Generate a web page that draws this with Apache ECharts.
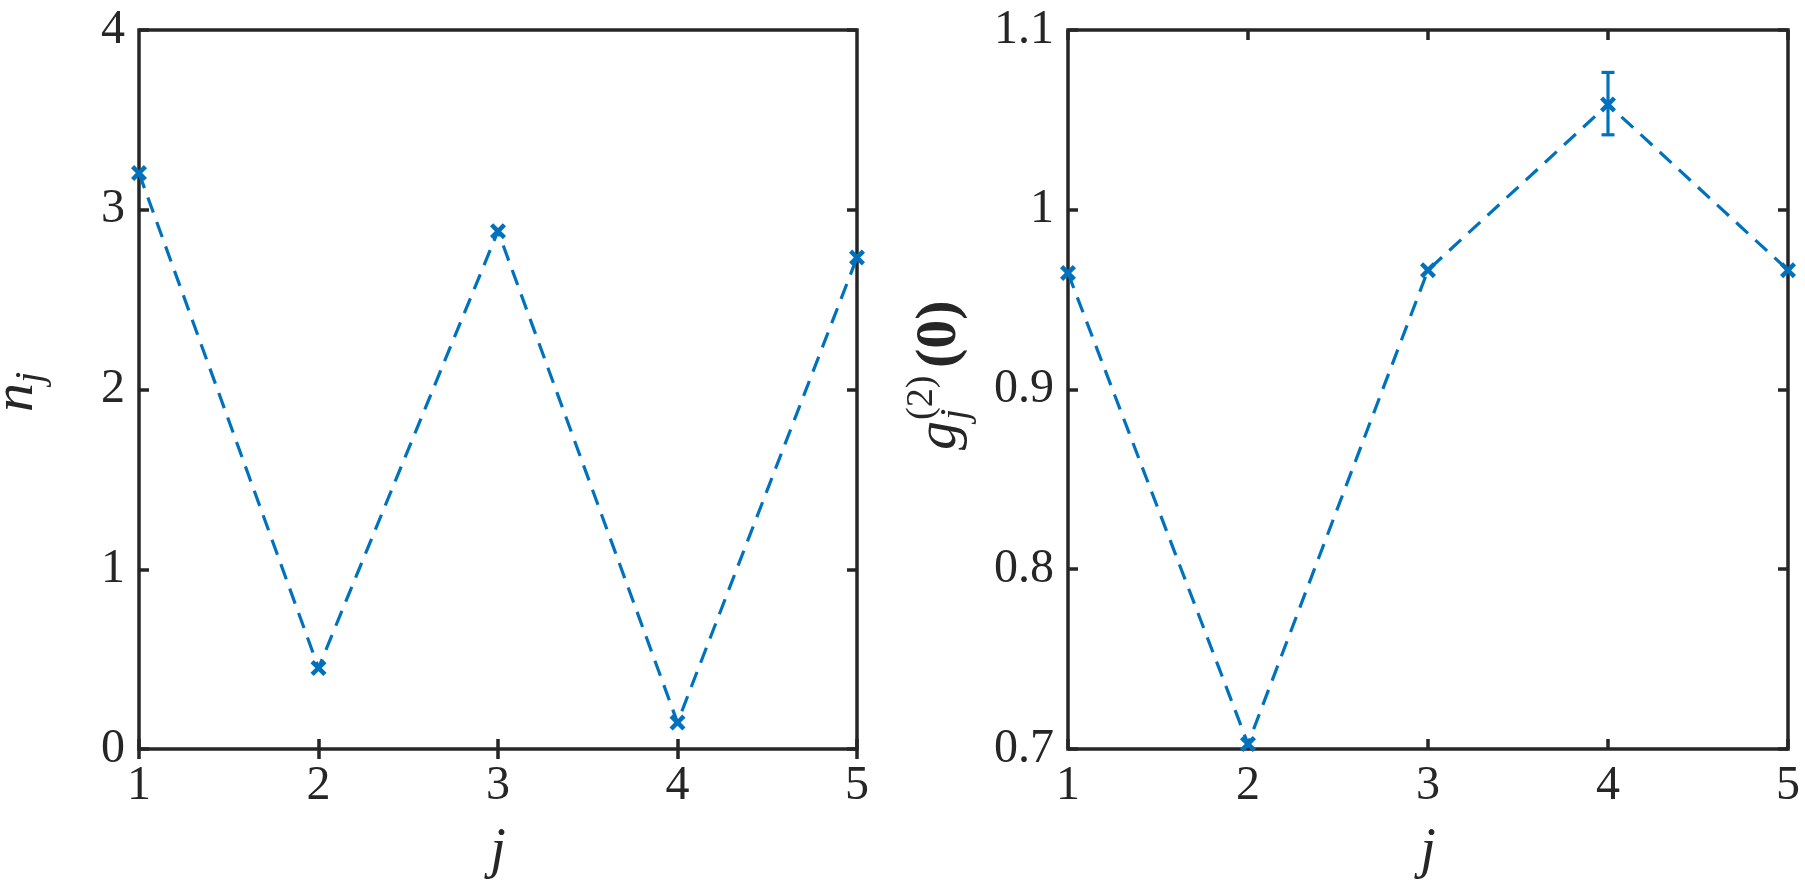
<!DOCTYPE html>
<html><head><meta charset="utf-8">
<script src="https://cdn.jsdelivr.net/npm/echarts@6/dist/echarts.min.js"></script>
<style>html,body{margin:0;padding:0;background:#fff}#c{width:1805px;height:886px}</style>
</head><body><div id="c"></div>
<script>
// ---- data ----
const jValues = [1, 2, 3, 4, 5];
const nValues = [3.204, 0.451, 2.881, 0.147, 2.734];
const gValues = [0.9648, 0.7028, 0.9664, 1.0586, 0.9664];
const gErrLower = [0, 0, 0, 0.0169, 0];
const gErrUpper = [0, 0, 0, 0.0178, 0];
const jTicks = [1, 2, 3, 4, 5];
const nTicks = [0, 1, 2, 3, 4];
const gTicks = [0.7, 0.8, 0.9, 1.0, 1.1];

// ---- style ----
const INK = '#262626';
const BLUE = '#0072BD';
const SERIF = '"Liberation Serif", "DejaVu Serif", serif';
const XMARK = 'path://M0,2L2,0L5,3L8,0L10,2L7,5L10,8L8,10L5,7L2,10L0,8L3,5Z';

const fmt = v => String(Math.round(v * 10) / 10);

function xAx(grid, pos, ticks) {
  return {
    gridIndex: grid, type: 'value', position: pos,
    min: ticks[0], max: ticks[ticks.length - 1], interval: ticks[1] - ticks[0],
    axisLine: { show: false },
    axisTick: { show: true, inside: true, length: 10, lineStyle: { color: INK, width: 3.5 } },
    axisLabel: { show: pos === 'bottom', fontFamily: SERIF, fontSize: 48, color: INK, margin: 13, formatter: fmt },
    splitLine: { show: false }
  };
}
function yAx(grid, pos, ticks) {
  return {
    gridIndex: grid, type: 'value', position: pos,
    min: ticks[0], max: ticks[ticks.length - 1], interval: Math.round((ticks[1] - ticks[0]) * 1000) / 1000,
    axisLine: { show: false },
    axisTick: { show: true, inside: true, length: 10, lineStyle: { color: INK, width: 3.5 } },
    axisLabel: { show: pos === 'left', fontFamily: SERIF, fontSize: 48, color: INK, margin: 14, formatter: fmt },
    splitLine: { show: false }
  };
}

function lineSeries(xi, yi, ys) {
  return {
    type: 'line', xAxisIndex: xi, yAxisIndex: yi,
    data: jValues.map((j, i) => [j, ys[i]]),
    symbol: XMARK, symbolSize: 16, showAllSymbol: true, clip: false,
    lineStyle: { color: BLUE, width: 3.2, type: [16, 10] },
    itemStyle: { color: BLUE },
    z: 3
  };
}

const errData = [];
jValues.forEach((j, i) => {
  if (gErrLower[i] > 0 || gErrUpper[i] > 0) errData.push([j, gValues[i] - gErrLower[i], gValues[i] + gErrUpper[i]]);
});

function txt(str, x, baseline, size, italic, bold) {
  return {
    type: 'text', x: x, y: baseline - 0.3 * size,
    style: {
      text: str, fill: INK, align: 'left', verticalAlign: 'middle',
      font: (italic ? 'italic ' : '') + (bold ? 'bold ' : '') + size + 'px ' + SERIF
    }
  };
}

const chart = echarts.init(document.getElementById('c'), null, { renderer: 'canvas' });
chart.setOption({
  animation: false,
  backgroundColor: '#fff',
  grid: [
    { left: 139, top: 30, width: 718, height: 719, show: true, borderColor: INK, borderWidth: 3.5, backgroundColor: 'transparent' },
    { left: 1068, top: 30, width: 720, height: 719, show: true, borderColor: INK, borderWidth: 3.5, backgroundColor: 'transparent' }
  ],
  xAxis: [xAx(0, 'bottom', jTicks), xAx(0, 'top', jTicks), xAx(1, 'bottom', jTicks), xAx(1, 'top', jTicks)],
  yAxis: [yAx(0, 'left', nTicks), yAx(0, 'right', nTicks), yAx(1, 'left', gTicks), yAx(1, 'right', gTicks)],
  series: [
    lineSeries(0, 0, nValues),
    lineSeries(2, 2, gValues),
    {
      type: 'custom', xAxisIndex: 2, yAxisIndex: 2, data: errData, z: 4, clip: false,
      renderItem: function (params, api) {
        const x = api.value(0), lo = api.value(1), hi = api.value(2);
        const t = api.coord([x, hi]), b = api.coord([x, lo]);
        const cw = 6.5;
        const st = { stroke: BLUE, lineWidth: 3.2 };
        return {
          type: 'group', children: [
            { type: 'line', shape: { x1: t[0], y1: t[1], x2: b[0], y2: b[1] }, style: st },
            { type: 'line', shape: { x1: t[0] - cw, y1: t[1], x2: t[0] + cw, y2: t[1] }, style: st },
            { type: 'line', shape: { x1: b[0] - cw, y1: b[1], x2: b[0] + cw, y2: b[1] }, style: st }
          ]
        };
      }
    }
  ],
  graphic: [
    { type: 'text', x: 498, y: 852, style: { text: 'j', font: 'italic 56px ' + SERIF, fill: INK, align: 'center', verticalAlign: 'middle' } },
    { type: 'text', x: 1428, y: 852, style: { text: 'j', font: 'italic 56px ' + SERIF, fill: INK, align: 'center', verticalAlign: 'middle' } },
    {
      type: 'group', x: 34, y: 390, rotation: Math.PI / 2,
      children: [
        txt('n', -22, 0, 58, true),
        txt('j', 7, 9, 40, true)
      ]
    },
    {
      type: 'group', x: 957, y: 376, rotation: Math.PI / 2,
      children: [
        txt('g', -74, 0, 58, true),
        txt('(2)', -44, -24, 38, false),
        txt('j', -44, 11, 40, true),
        txt('(0)', 8, 0, 58, false, true)
      ]
    }
  ]
});
</script>
</body></html>
